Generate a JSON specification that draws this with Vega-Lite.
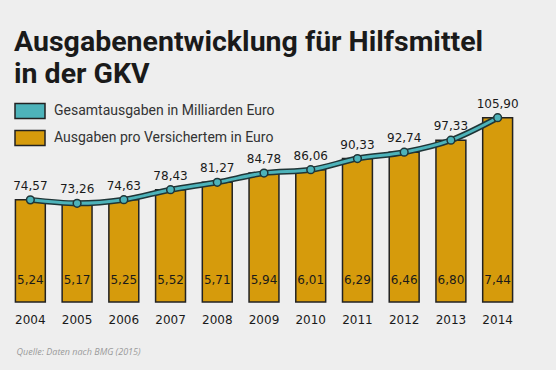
{
  "$schema": "https://vega.github.io/schema/vega-lite/v6.json",
  "width": 514,
  "height": 195,
  "autosize": {"type": "none"},
  "padding": {"left": 7, "top": 107, "right": 35, "bottom": 68},
  "background": "#eeeeee",
  "config": {
    "view": {"stroke": null},
    "locale": {"number": {"decimal": ",", "thousands": ".", "grouping": [3], "currency": ["", " €"]}}
  },
  "title": {
    "text": ["Ausgabenentwicklung für Hilfsmittel", "in der GKV"],
    "anchor": "start",
    "frame": "group",
    "orient": "top",
    "dx": 7,
    "offset": 7,
    "font": "Roboto",
    "fontSize": 28.5,
    "fontWeight": "bold",
    "lineHeight": 32,
    "color": "#1a1a1a"
  },
  "data": {
    "values": [
      {"jahr": "2004", "pro_versichertem": 74.57, "gesamt": 5.24},
      {"jahr": "2005", "pro_versichertem": 73.26, "gesamt": 5.17},
      {"jahr": "2006", "pro_versichertem": 74.63, "gesamt": 5.25},
      {"jahr": "2007", "pro_versichertem": 78.43, "gesamt": 5.52},
      {"jahr": "2008", "pro_versichertem": 81.27, "gesamt": 5.71},
      {"jahr": "2009", "pro_versichertem": 84.78, "gesamt": 5.94},
      {"jahr": "2010", "pro_versichertem": 86.06, "gesamt": 6.01},
      {"jahr": "2011", "pro_versichertem": 90.33, "gesamt": 6.29},
      {"jahr": "2012", "pro_versichertem": 92.74, "gesamt": 6.46},
      {"jahr": "2013", "pro_versichertem": 97.33, "gesamt": 6.80},
      {"jahr": "2014", "pro_versichertem": 105.90, "gesamt": 7.44}
    ]
  },
  "encoding": {
    "x": {
      "field": "jahr",
      "type": "ordinal",
      "scale": {"paddingInner": 0.36, "paddingOuter": 0.18},
      "axis": {
        "labelAngle": 0,
        "domain": false,
        "ticks": false,
        "labelPadding": 12,
        "labelFont": "DejaVu Sans",
        "labelFontSize": 12,
        "labelColor": "#1a1a1a",
        "title": "Quelle: Daten nach BMG (2015)",
        "titleAnchor": "start",
        "titleAlign": "left",
        "titleX": 9,
        "titleY": 45,
        "titleFont": "Open Sans",
        "titleFontSize": 9,
        "titleFontStyle": "italic",
        "titleFontWeight": "normal",
        "titleColor": "#9a9a9a"
      }
    }
  },
  "layer": [
    {
      "mark": {"type": "bar", "stroke": "#222222", "strokeWidth": 1.5},
      "encoding": {
        "y": {
          "field": "pro_versichertem",
          "type": "quantitative",
          "scale": {"domain": [35.6, 110], "zero": false, "nice": false},
          "axis": null
        },
        "y2": {"datum": 35.6},
        "color": {
          "datum": "Ausgaben pro Versichertem in Euro",
          "scale": {
            "domain": ["Gesamtausgaben in Milliarden Euro", "Ausgaben pro Versichertem in Euro"],
            "range": ["#4db3ba", "#d69b0c"]
          },
          "legend": {
            "title": null,
            "orient": "none",
            "legendX": 7,
            "legendY": -12,
            "padding": 0,
            "symbolType": "M-1,-0.5H1V0.5H-1Z",
            "symbolSize": 900,
            "symbolStrokeColor": "#222222",
            "symbolStrokeWidth": 1.5,
            "symbolOpacity": 1,
            "rowPadding": -8,
            "labelOffset": 8,
            "labelLimit": 0,
            "labelFont": "Roboto",
            "labelFontSize": 14,
            "labelColor": "#333333"
          }
        }
      }
    },
    {
      "mark": {"type": "line", "color": "#1f3537", "strokeWidth": 6, "interpolate": "monotone"},
      "encoding": {"y": {"field": "pro_versichertem", "type": "quantitative"}}
    },
    {
      "mark": {"type": "line", "color": "#4db3ba", "strokeWidth": 3, "interpolate": "monotone"},
      "encoding": {"y": {"field": "pro_versichertem", "type": "quantitative"}}
    },
    {
      "mark": {"type": "point", "filled": true, "fill": "#4db3ba", "stroke": "#1f3537", "strokeWidth": 1.5, "size": 60, "opacity": 1},
      "encoding": {"y": {"field": "pro_versichertem", "type": "quantitative"}}
    },
    {
      "mark": {"type": "text", "dy": -14, "font": "DejaVu Sans", "fontSize": 12, "color": "#1a1a1a"},
      "encoding": {
        "y": {"field": "pro_versichertem", "type": "quantitative"},
        "text": {"field": "pro_versichertem", "type": "quantitative", "format": ".2f"}
      }
    },
    {
      "mark": {"type": "text", "dy": -22, "font": "DejaVu Sans", "fontSize": 12, "color": "#1a1a1a"},
      "encoding": {
        "y": {"datum": 35.6},
        "text": {"field": "gesamt", "type": "quantitative", "format": ".2f"}
      }
    }
  ]
}
